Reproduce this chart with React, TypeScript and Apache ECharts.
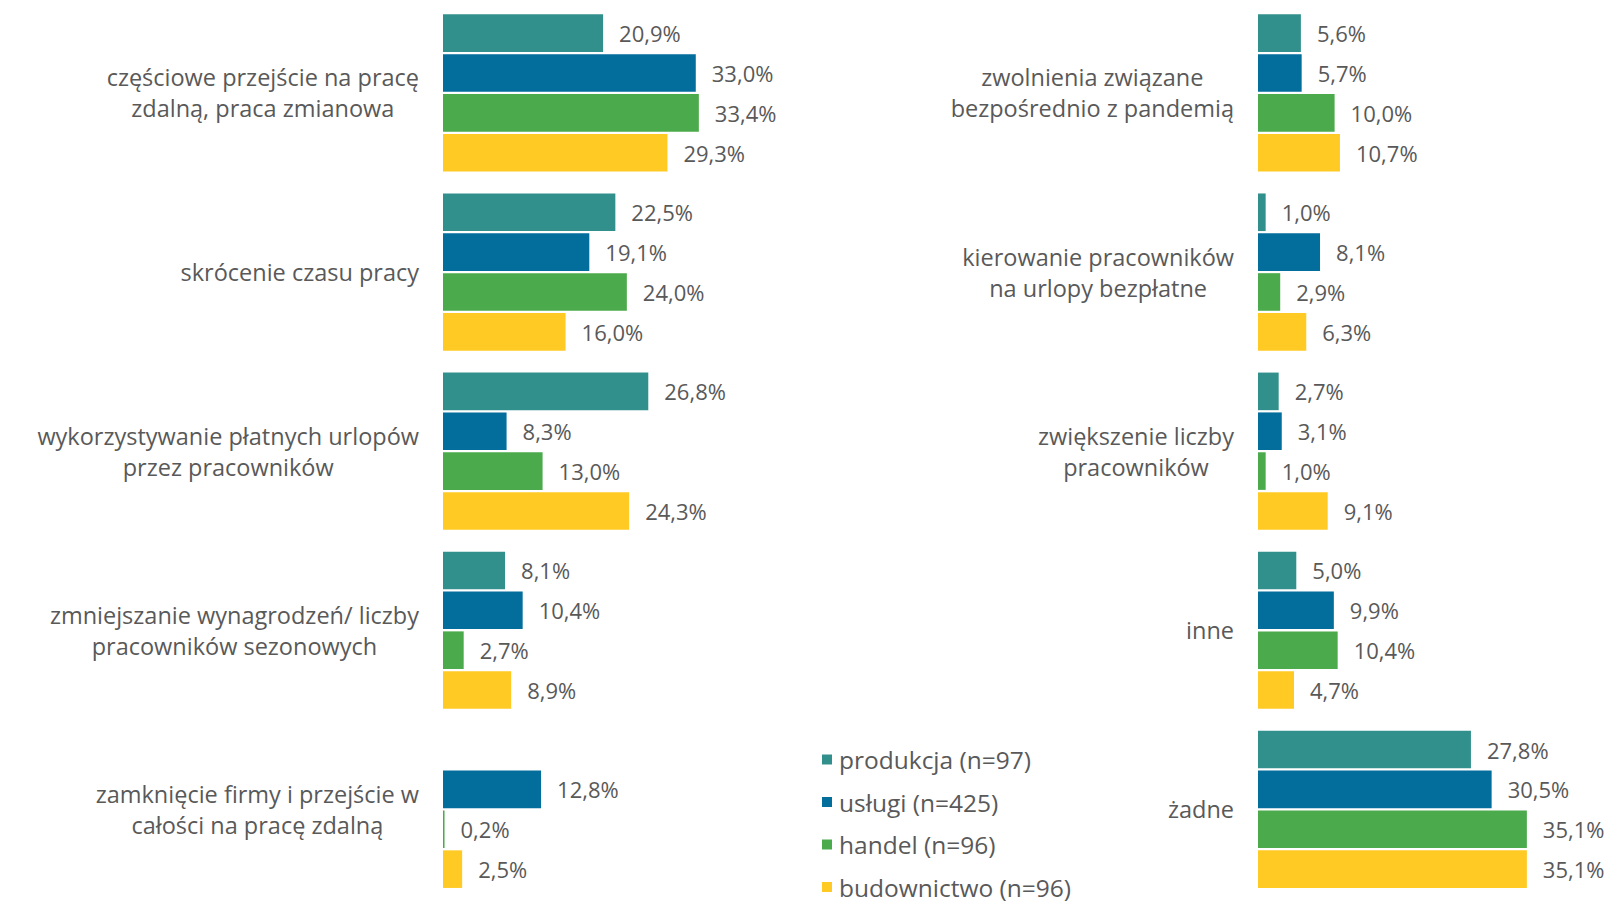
import React, { useEffect, useRef } from 'react';
import * as echarts from 'echarts';

const seriesNames = ['produkcja (n=97)', 'usługi (n=425)', 'handel (n=96)', 'budownictwo (n=96)'];
const colors = ['#32908C', '#036D9B', '#4BAA4B', '#FFCA24'];

const leftCategories = [
  'częściowe przejście na pracę\nzdalną, praca zmianowa',
  'skrócenie czasu pracy',
  'wykorzystywanie płatnych urlopów\nprzez pracowników',
  'zmniejszanie wynagrodzeń/ liczby\npracowników sezonowych',
  'zamknięcie firmy i przejście w\ncałości na pracę zdalną',
];
const rightCategories = [
  'zwolnienia związane\nbezpośrednio z pandemią',
  'kierowanie pracowników\nna urlopy bezpłatne',
  'zwiększenie liczby\npracowników',
  'inne',
  'żadne',
];

const leftProdukcja = [20.9, 22.5, 26.8, 8.1, null];
const leftUslugi = [33.0, 19.1, 8.3, 10.4, 12.8];
const leftHandel = [33.4, 24.0, 13.0, 2.7, 0.2];
const leftBudownictwo = [29.3, 16.0, 24.3, 8.9, 2.5];

const rightProdukcja = [5.6, 1.0, 2.7, 5.0, 27.8];
const rightUslugi = [5.7, 8.1, 3.1, 9.9, 30.5];
const rightHandel = [10.0, 2.9, 1.0, 10.4, 35.1];
const rightBudownictwo = [10.7, 6.3, 9.1, 4.7, 35.1];

const FONT = '"Open Sans", sans-serif';
const TEXT = '#595959';
const CAT_SIZE = 23.5;
const CAT_LINE = 31;

export default function App() {
  const ref = useRef<HTMLDivElement>(null);
  useEffect(() => {
    if (!ref.current) return;
    const chart = echarts.init(ref.current, null, { renderer: 'svg' });
    const leftData = [leftProdukcja, leftUslugi, leftHandel, leftBudownictwo];
    const rightData = [rightProdukcja, rightUslugi, rightHandel, rightBudownictwo];
    const fmt = (p: any) => {
      const v = Array.isArray(p.value) ? p.value[0] : p.value;
      if (v === null || v === undefined || v === '-') return '';
      return Number(v).toFixed(1).replace('.', ',') + '%';
    };
    const mkSeries = (data: (number | null)[][], idx: number) =>
      data.map((d, i) => ({
        type: 'bar',
        name: seriesNames[i],
        xAxisIndex: idx,
        yAxisIndex: idx,
        data: d.map((v) => (v === null ? '-' : v)),
        barWidth: 37.6,
        barGap: '6%',
        itemStyle: { color: colors[i] },
        label: {
          show: true,
          position: 'right',
          distance: 16,
          formatter: fmt,
          fontSize: 22,
          fontFamily: FONT,
          color: TEXT,
        },
      }));
    const catLabel = {
      margin: 24,
      fontSize: CAT_SIZE,
      fontFamily: FONT,
      color: TEXT,
      lineHeight: CAT_LINE,
      formatter: (s: string) =>
        s
          .split('\n')
          .map((l) => `{c|${l}}`)
          .join('\n'),
      rich: {
        c: { align: 'center', fontSize: CAT_SIZE, fontFamily: FONT, color: TEXT, lineHeight: CAT_LINE },
      },
    };
    const yAx = (cats: string[], gi: number) => ({
      type: 'category',
      gridIndex: gi,
      data: cats,
      inverse: true,
      axisLine: { show: false },
      axisTick: { show: false },
      splitLine: { show: false },
      axisLabel: catLabel,
    });
    const xAx = (gi: number) => ({
      type: 'value',
      gridIndex: gi,
      min: 0,
      max: 40,
      show: false,
      splitLine: { show: false },
    });
    chart.setOption({
      animation: false,
      backgroundColor: '#ffffff',
      textStyle: { fontFamily: FONT },
      grid: [
        { left: 443, width: 306.4, top: 3.4, height: 895.5 },
        { left: 1258, width: 306.4, top: 3.4, height: 895.5 },
      ],
      xAxis: [xAx(0), xAx(1)],
      yAxis: [yAx(leftCategories, 0), yAx(rightCategories, 1)],
      legend: {
        data: seriesNames,
        orient: 'vertical',
        left: 822,
        top: 747,
        padding: 0,
        icon: 'rect',
        itemWidth: 10,
        itemHeight: 10,
        itemGap: 17.5,
        selectedMode: false,
        textStyle: { fontSize: 24.5, fontFamily: FONT, color: TEXT, lineHeight: 25, padding: [0, 0, 0, 2] },
      },
      series: [...mkSeries(leftData, 0), ...mkSeries(rightData, 1)],
    });
    return () => chart.dispose();
  }, []);
  return (
    <div
      ref={ref}
      style={{ position: 'absolute', left: 0, top: 0, width: 1614, height: 905, background: '#fff' }}
    />
  );
}
